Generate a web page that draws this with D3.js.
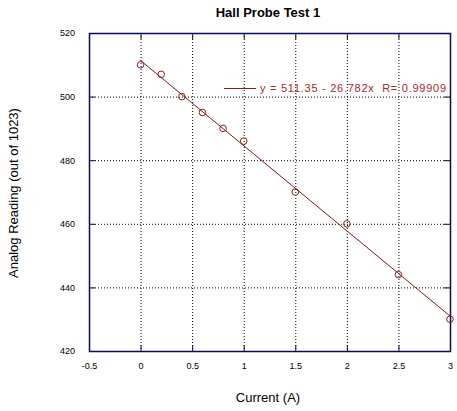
<!DOCTYPE html>
<html><head><meta charset="utf-8">
<script src="https://cdn.jsdelivr.net/npm/d3@7"></script>
<style>body{margin:0;background:#fff}svg{display:block}</style>
</head><body>
<svg id="c" width="457" height="411"></svg>
<script>
const currents = [0, 0.2, 0.4, 0.6, 0.8, 1, 1.5, 2, 2.5, 3];
const readings = [510, 507, 500, 495, 490, 486, 470, 460, 444, 430];
const xTicks = [-0.5, 0, 0.5, 1, 1.5, 2, 2.5, 3];
const yTicks = [420, 440, 460, 480, 500, 520];
const fitIntercept = 511.35, fitSlope = -26.782, fitR = 0.99909;
const fitLabel = "y = 511.35 - 26.782x  R= 0.99909";

const svg = d3.select("#c");
const L = 89, R = 450, T = 33, B = 351;
const x = d3.scaleLinear().domain([-0.5, 3]).range([L, R]);
const y = d3.scaleLinear().domain([420, 520]).range([B, T]);
const frame = "#0a0a5a";
const font = "Arial, Liberation Sans, sans-serif";

// grid
const g = svg.append("g");
g.selectAll(".gx").data(xTicks.slice(1, -1)).enter().append("line")
  .attr("x1", d => x(d) + 0.5).attr("x2", d => x(d) + 0.5)
  .attr("y1", T).attr("y2", B)
  .attr("stroke", "#000").attr("stroke-width", 1).attr("stroke-dasharray", "1,2");
g.selectAll(".gy").data(yTicks.slice(1, -1)).enter().append("line")
  .attr("y1", d => y(d) + 0.5).attr("y2", d => y(d) + 0.5)
  .attr("x1", L).attr("x2", R)
  .attr("stroke", "#000").attr("stroke-width", 1).attr("stroke-dasharray", "1,2");

// axes (ticks inward)
const fmt = d => String(d);
svg.append("g").attr("transform", `translate(0,${B})`)
  .call(d3.axisBottom(x).tickValues(xTicks).tickFormat(fmt).tickSizeInner(-6).tickSizeOuter(0).tickPadding(12))
  .call(a => { a.select(".domain").remove(); a.selectAll("line").attr("stroke", frame);
    a.selectAll("text").attr("font-family", font).attr("font-size", 9).attr("fill", "#000"); });
svg.append("g").attr("transform", `translate(0,${T})`)
  .call(d3.axisTop(x).tickValues(xTicks).tickFormat("").tickSizeInner(-6).tickSizeOuter(0))
  .call(a => { a.select(".domain").remove(); a.selectAll("line").attr("stroke", frame); });
svg.append("g").attr("transform", `translate(${L},0)`)
  .call(d3.axisLeft(y).tickValues(yTicks).tickFormat(fmt).tickSizeInner(-6).tickSizeOuter(0).tickPadding(14))
  .call(a => { a.select(".domain").remove(); a.selectAll("line").attr("stroke", frame);
    a.selectAll("text").attr("font-family", font).attr("font-size", 9).attr("fill", "#000"); });
svg.append("g").attr("transform", `translate(${R},0)`)
  .call(d3.axisRight(y).tickValues(yTicks).tickFormat("").tickSizeInner(-6).tickSizeOuter(0))
  .call(a => { a.select(".domain").remove(); a.selectAll("line").attr("stroke", frame); });

svg.append("rect").attr("x", L + 0.5).attr("y", T + 0.5).attr("width", R - L).attr("height", B - T)
  .attr("fill", "none").attr("stroke", frame).attr("stroke-width", 1.5);

// fit line
const fx = d3.extent(currents);
svg.append("line")
  .attr("x1", x(fx[0])).attr("y1", y(fitIntercept + fitSlope * fx[0]))
  .attr("x2", x(fx[1])).attr("y2", y(fitIntercept + fitSlope * fx[1]))
  .attr("stroke", "#7a1a1a").attr("stroke-width", 1);

// points
svg.selectAll(".pt").data(currents).enter().append("circle")
  .attr("cx", d => x(d)).attr("cy", (d, i) => y(readings[i])).attr("r", 3.3)
  .attr("fill", "none").attr("stroke", "#8a1c1c").attr("stroke-width", 1);

// legend
svg.append("line").attr("x1", 224).attr("x2", 256).attr("y1", 88.5).attr("y2", 88.5)
  .attr("stroke", "#8a1c1c").attr("stroke-width", 1);
svg.append("text").attr("x", 260).attr("y", 92).text(fitLabel)
  .attr("font-family", font).attr("font-size", 11).attr("fill", "#a82828")
  .attr("textLength", 186).attr("lengthAdjust", "spacing")
  .style("white-space", "pre");

// title & labels
svg.append("text").attr("x", 268).attr("y", 17).attr("text-anchor", "middle")
  .attr("font-family", font).attr("font-weight", "bold").attr("font-size", 13)
  .text("Hall Probe Test 1");
svg.append("text").attr("x", 268).attr("y", 402).attr("text-anchor", "middle")
  .attr("font-family", font).attr("font-size", 13)
  .text("Current (A)");
svg.append("text").attr("transform", "translate(18,193) rotate(-90)").attr("text-anchor", "middle")
  .attr("font-family", font).attr("font-size", 13)
  .text("Analog Reading (out of 1023)");
</script>
</body></html>
